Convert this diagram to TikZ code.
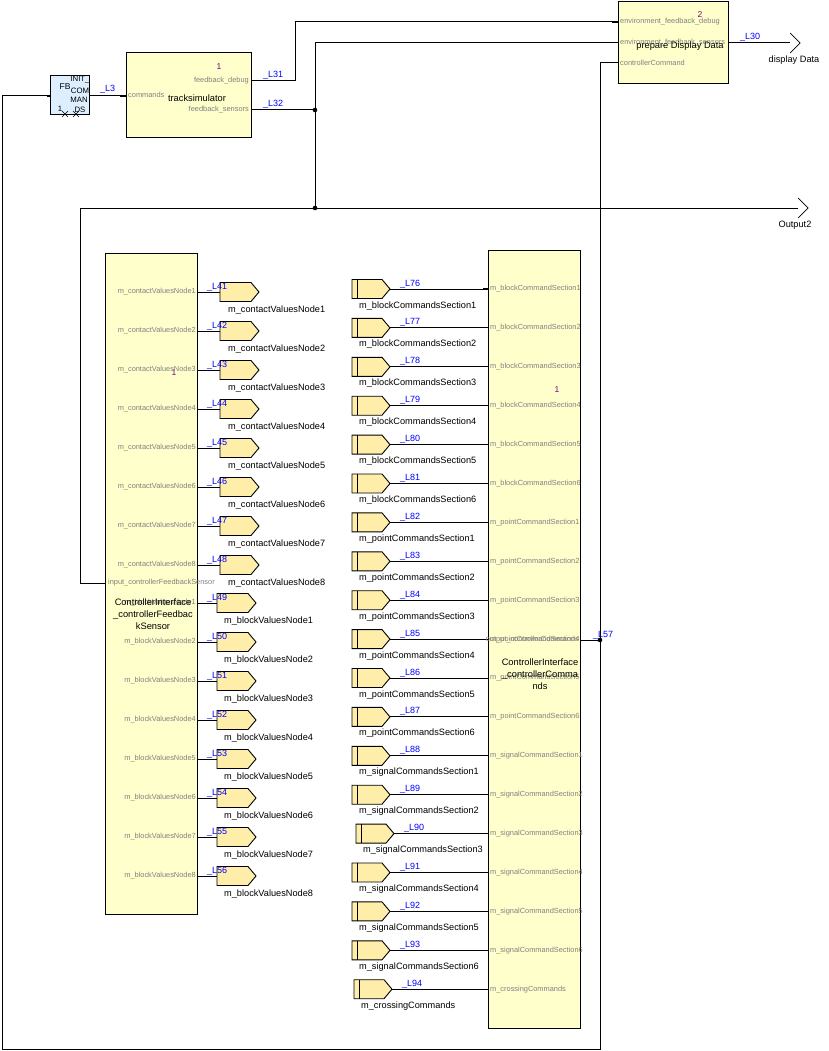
\documentclass[tikz,border=0pt]{standalone}
\usepackage{fontspec}
\setmainfont{Liberation Sans}
\definecolor{blkfill}{RGB}{255,255,204}
\definecolor{symfill}{RGB}{255,238,170}
\definecolor{fbfill}{RGB}{221,238,255}
\definecolor{portgray}{RGB}{128,128,128}
\definecolor{linkblue}{RGB}{0,0,255}
\definecolor{idpurple}{RGB}{128,0,128}
\tikzset{
  blk/.style={draw=black, fill=blkfill, line width=1pt, anchor=north west, inner sep=0pt, outer sep=0pt},
  wire/.style={line width=1pt},
  stub/.style={line width=2.4pt},
  plbl/.style={font=\fontsize{7.4}{8}\selectfont, text=portgray, inner sep=0pt},
  llbl/.style={font=\fontsize{9}{10}\selectfont, text=linkblue, inner sep=0pt},
  slbl/.style={font=\fontsize{9.2}{10}\selectfont, inner sep=0pt},
  idlbl/.style={font=\fontsize{8.5}{9}\selectfont, text=idpurple, inner sep=0pt},
  ttl/.style={font=\fontsize{9.3}{12}\selectfont, align=center, inner sep=0pt},
  sym/.style={draw=black, fill=symfill, line width=0.9pt},
}
% left-side output symbol: name, x0, y, L number, port text, symbol text, label x
\newcommand\outsym[7]{%
  \coordinate (#1p) at (197,#3);
  \coordinate (#1s) at (#2,#3);
  \draw[sym] (#2,#3-9.5) -- (#2+31,#3-9.5) -- (#2+39,#3) -- (#2+31,#3+9.5) -- (#2,#3+9.5) -- cycle;
  \draw[wire] (#1p) -- (#1s);
  \node[plbl, anchor=east] (#1pl) at (196,#3) {#5};
  \node[llbl, anchor=base west] (#1ll) at (207,#3-3) {\_L#4};
  \node[slbl, anchor=base west] (#1sl) at (#7,#3+20) {#6};
}
% right-side input symbol: name, x0, y, L number, port text, symbol text
\newcommand\insym[6]{%
  \draw[sym] (#2,#3-9.5) -- (#2+30,#3-9.5) -- (#2+38,#3) -- (#2+30,#3+9.5) -- (#2,#3+9.5) -- cycle;
  \draw[sym] (#2+5,#3-9.5) -- (#2+5,#3+9.5);
  \coordinate (#1s) at (#2+38,#3);
  \coordinate (#1p) at (488,#3);
  \draw[wire] (#1s) -- (#1p);
  \node[plbl, anchor=west] (#1pl) at (490,#3) {#5};
  \node[llbl, anchor=base west] (#1ll) at (#2+48,#3-3) {\_L#4};
  \node[slbl, anchor=base west] (#1sl) at (#2+7,#3+19) {#6};
}
\begin{document}
\begin{tikzpicture}[x=1pt,y=-1pt]
\useasboundingbox (0,0) rectangle (828,1051);

% ---------- blocks ----------
\node[blk, fill=fbfill, minimum width=39pt, minimum height=39pt] (fb) at (50.5,76) {};
\node[blk, minimum width=125pt, minimum height=85pt] (ts) at (126,53) {};
\node[blk, minimum width=110pt, minimum height=82.5pt] (pd) at (618,1.5) {};
\node[blk, minimum width=92pt, minimum height=661pt] (cfs) at (105,253) {};
\node[blk, minimum width=92pt, minimum height=778pt] (ccc) at (488,250) {};

% FB block texts
\node[font=\fontsize{8.5}{9}\selectfont] (fbt) at (65,87) {FB};
\node[font=\fontsize{7.8}{8}\selectfont] (fbi1) at (80,80) {INIT\_};
\node[font=\fontsize{7.8}{8}\selectfont] (fbi2) at (80,91) {COM};
\node[font=\fontsize{7.8}{8}\selectfont] (fbi3) at (79,100) {MAN};
\node[font=\fontsize{7.8}{8}\selectfont] (fbi4) at (80,110) {DS};
\node[font=\fontsize{7.8}{8}\selectfont] (fbn) at (60,109) {1};
\draw[line width=0.6pt] (62,111) -- (68,117) (62,117) -- (68,111);
\draw[line width=0.6pt] (73,111) -- (79,117) (73,117) -- (79,111);

% tracksimulator texts
\node[idlbl] (tsid) at (219,67) {1};
\node[ttl] (tst) at (197,98) {tracksimulator};
\node[plbl, anchor=west] (tscl) at (128,95) {commands};
\node[plbl, anchor=east] (tsdl) at (249,81) {feedback\_debug};
\node[plbl, anchor=east] (tssl) at (249,110) {feedback\_sensors};

% prepareDisplayData texts
\node[idlbl] (pdid) at (700,15) {2};
\node[plbl, anchor=west] (pd1) at (620,22) {environment\_feedback\_debug};
\node[plbl, anchor=west] (pd2) at (620,43) {environment\_feedback\_sensors};
\node[plbl, anchor=west] (pd3) at (620,63) {controllerCommand};
\node[ttl] (pdt) at (680,46) {prepare Display Data};

% ---------- port coordinates ----------
\coordinate (fbin) at (50.5,96);
\coordinate (fbout) at (89.5,96);
\coordinate (tscmd) at (126,96);
\coordinate (tsdbg) at (251,81);
\coordinate (tssen) at (251,110);
\coordinate (pdbg) at (618,22);
\coordinate (psen) at (618,43);
\coordinate (pcmd) at (618,63);
\coordinate (pout) at (728,43);
\coordinate (dispD) at (790,43);
\coordinate (out2) at (798,208);
\coordinate (j1) at (315,110);
\coordinate (j2) at (315,208);
\coordinate (cfsin) at (105,583);
\coordinate (cccout) at (580,640);
\coordinate (j57) at (600,640);

% stubs
\draw[stub] (47,96) -- (fbin);
\draw[stub] (120,96) -- (tscmd);
\draw[stub] (612,22) -- (pdbg);
\draw[stub] (483,289) -- (488,289);

% ---------- connectors ----------
\draw[wire] (fbout) -- (tscmd);
\node[llbl, anchor=base west] (l3) at (100,92) {\_L3};
\draw[wire] (tsdbg) -- (295,81) |- (pdbg);
\node[llbl, anchor=base west] (l31) at (263,78) {\_L31};
\draw[wire] (tssen) -- (j1) |- (psen);
\node[llbl, anchor=base west] (l32) at (263,107) {\_L32};
\draw[wire] (j1) -- (j2);
\draw[wire] (out2) -- (80,208) |- (cfsin);
\draw[wire] (pout) -- (dispD);
\node[llbl, anchor=base west] (l30) at (740,40) {\_L30};
\draw[wire] (pcmd) -| (600,1049) -| (2,96) -- (fbin);
\draw[wire] (cccout) -- (j57);
\node[llbl, anchor=base west] (l57) at (593,637) {\_L57};
\fill (j1) circle (2.3pt);
\fill (j2) circle (2.3pt);
\fill (j57) circle (2.3pt);

% outputs (chevrons)
\draw[line width=0.7pt] (790,33) -- (800,43) -- (790,53);
\node[slbl] (dd) at (794,60) {display Data};
\draw[line width=0.7pt] (798,198) -- (808,208) -- (798,218);
\node[slbl] (o2) at (795,225) {Output2};

% ---------- left block ----------
\node[idlbl] (cfsid) at (174,373) {1};
\node[plbl, anchor=west] (cfsinl) at (108,583) {input\_controllerFeedbackSensor};
\foreach \i in {1,...,8}{
  \pgfmathsetmacro\yy{292+39*(\i-1)}
  \pgfmathtruncatemacro\LL{40+\i}
  \outsym{cv\i}{220}{\yy}{\LL}{m\_contactValuesNode\i}{m\_contactValuesNode\i}{228}
}
\foreach \i in {1,...,8}{
  \pgfmathsetmacro\yy{603+39*(\i-1)}
  \pgfmathtruncatemacro\LL{48+\i}
  \outsym{bv\i}{217}{\yy}{\LL}{m\_blockValuesNode\i}{m\_blockValuesNode\i}{224}
}
\node[ttl] (cfst) at (153,614) {ControllerInterface\\\_controllerFeedbac\\kSensor};

% ---------- right block ----------
\node[idlbl] (cccid) at (557,390) {1};
\foreach \i in {1,...,6}{
  \pgfmathsetmacro\yy{289+38.9*(\i-1)}
  \pgfmathtruncatemacro\LL{75+\i}
  \insym{bc\i}{352}{\yy}{\LL}{m\_blockCommandSection\i}{m\_blockCommandsSection\i}
}
\foreach \i in {1,...,6}{
  \pgfmathsetmacro\yy{289+38.9*(\i+5)}
  \pgfmathtruncatemacro\LL{81+\i}
  \insym{pc\i}{352}{\yy}{\LL}{m\_pointCommandSection\i}{m\_pointCommandsSection\i}
}
\foreach \i/\xx in {1/352,2/352,3/356,4/352,5/352,6/352}{
  \pgfmathsetmacro\yy{289+38.9*(\i+11)}
  \pgfmathtruncatemacro\LL{87+\i}
  \insym{sc\i}{\xx}{\yy}{\LL}{m\_signalCommandSection\i}{m\_signalCommandsSection\i}
}
\insym{cr}{354}{989.2}{94}{m\_crossingCommands}{m\_crossingCommands}
\node[plbl, anchor=east] (cccoutl) at (579,640) {output\_controllerCommands};
\node[ttl] (ccct) at (540,674) {ControllerInterface\\\_controllerComma\\nds};

\end{tikzpicture}
\end{document}
